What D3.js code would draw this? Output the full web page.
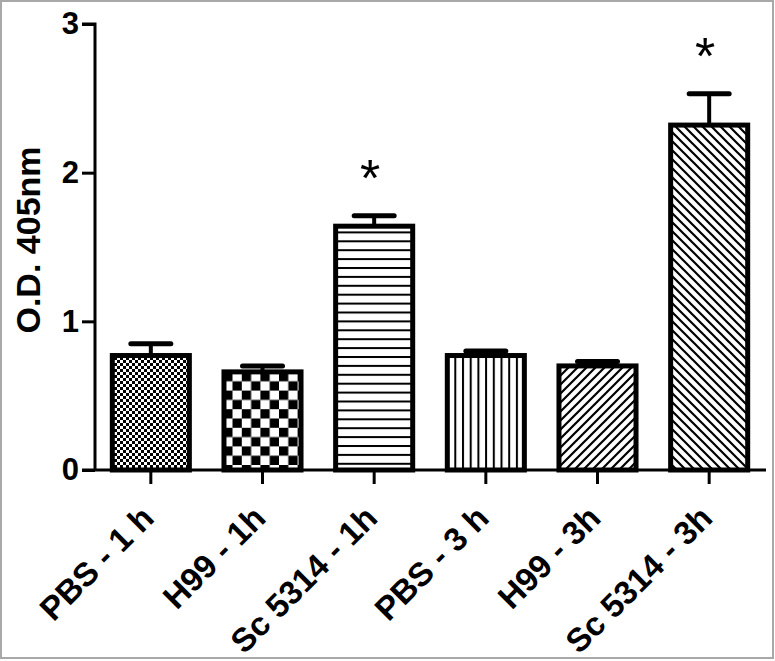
<!DOCTYPE html>
<html><head><meta charset="utf-8">
<script src="https://cdn.jsdelivr.net/npm/d3@7"></script>
<style>html,body{margin:0;padding:0;background:#fff;}svg{display:block;}</style>
</head><body>
<svg id="chart" width="775" height="661"></svg>
<script>
const categories = ["PBS - 1 h", "H99 - 1h", "Sc 5314 - 1h", "PBS - 3 h", "H99 - 3h", "Sc 5314 - 3h"];
const means = [0.77, 0.66, 1.64, 0.77, 0.70, 2.32];
const errors = [0.08, 0.04, 0.07, 0.03, 0.03, 0.21];
const significant = [false, false, true, false, false, true];
const patternIds = ["fineCheck", "check", "hlines", "vlines", "diagUp", "diagDown"];
const yTicks = [0, 1, 2, 3];
const yLabel = "O.D. 405nm";

const svg = d3.select("#chart");
const font = "'Liberation Sans', Arial, sans-serif";

svg.append("rect").attr("x", 1).attr("y", 1).attr("width", 772).attr("height", 657)
  .attr("fill", "#fff").attr("stroke", "#a8a8a8").attr("stroke-width", 2);

const defs = svg.append("defs");
let p = defs.append("pattern").attr("id", "fineCheck").attr("patternUnits", "userSpaceOnUse").attr("width", 6).attr("height", 6);
p.append("rect").attr("width", 6).attr("height", 6).attr("fill", "#000");
p.append("rect").attr("width", 3).attr("height", 3).attr("fill", "#fff");
p.append("rect").attr("x", 3).attr("y", 3).attr("width", 3).attr("height", 3).attr("fill", "#fff");
p = defs.append("pattern").attr("id", "check").attr("patternUnits", "userSpaceOnUse").attr("width", 18.6).attr("height", 18.6);
p.append("rect").attr("width", 18.6).attr("height", 18.6).attr("fill", "#fff");
p.append("rect").attr("width", 9.3).attr("height", 9.3).attr("fill", "#000");
p.append("rect").attr("x", 9.3).attr("y", 9.3).attr("width", 9.3).attr("height", 9.3).attr("fill", "#000");
p = defs.append("pattern").attr("id", "hlines").attr("patternUnits", "userSpaceOnUse").attr("width", 10).attr("height", 8.9);
p.append("rect").attr("width", 10).attr("height", 8.9).attr("fill", "#fff");
p.append("rect").attr("y", 0).attr("width", 10).attr("height", 2).attr("fill", "#000");
p = defs.append("pattern").attr("id", "vlines").attr("patternUnits", "userSpaceOnUse").attr("width", 7.7).attr("height", 10);
p.append("rect").attr("width", 7.7).attr("height", 10).attr("fill", "#fff");
p.append("rect").attr("x", 0).attr("width", 2).attr("height", 10).attr("fill", "#000");
p = defs.append("pattern").attr("id", "diagUp").attr("patternUnits", "userSpaceOnUse").attr("width", 9).attr("height", 9);
p.append("rect").attr("width", 9).attr("height", 9).attr("fill", "#fff");
p.append("path").attr("d", "M-2,2 L2,-2 M0,9 L9,0 M7,11 L11,7").attr("stroke", "#000").attr("stroke-width", 2.2);
p = defs.append("pattern").attr("id", "diagDown").attr("patternUnits", "userSpaceOnUse").attr("width", 9).attr("height", 9);
p.append("rect").attr("width", 9).attr("height", 9).attr("fill", "#fff");
p.append("path").attr("d", "M-2,7 L2,11 M0,0 L9,9 M7,-2 L11,2").attr("stroke", "#000").attr("stroke-width", 2.2);

const x = d3.scaleBand().domain(categories).range([95, 765]).paddingInner(0.31).paddingOuter(0.155);
const y = d3.scaleLinear().domain([0, 3]).range([470, 24]);

const data = categories.map((c, i) => ({c, m: means[i], e: errors[i], s: significant[i], p: patternIds[i]}));
const g = svg.append("g");
g.selectAll(".err").data(data).join("g").each(function(d) {
  const cx = x(d.c) + x.bandwidth() / 2;
  const sel = d3.select(this);
  sel.append("line").attr("x1", cx).attr("x2", cx).attr("y1", y(d.m)).attr("y2", y(d.m + d.e))
    .attr("stroke", "#000").attr("stroke-width", 4);
  sel.append("line").attr("x1", cx - 20).attr("x2", cx + 20).attr("y1", y(d.m + d.e)).attr("y2", y(d.m + d.e))
    .attr("stroke", "#000").attr("stroke-width", 5).attr("stroke-linecap", "round");
});
g.selectAll(".bar").data(data).join("rect")
  .attr("x", d => x(d.c)).attr("width", x.bandwidth())
  .attr("y", d => y(d.m)).attr("height", d => y(0) - y(d.m))
  .attr("fill", d => `url(#${d.p})`).attr("stroke", "#000").attr("stroke-width", 5);

g.selectAll(".star").data(data.filter(d => d.s)).join("text")
  .attr("x", d => x(d.c) + x.bandwidth() / 2 - 4)
  .attr("y", d => y(d.m + d.e) - 20)
  .attr("text-anchor", "middle").attr("font-family", font).attr("font-size", 52)
  .text("*");

const ya = svg.append("g").attr("transform", "translate(95,0)")
  .call(d3.axisLeft(y).tickValues(yTicks).tickSize(13).tickPadding(3).tickFormat(d3.format("d")));
ya.select(".domain").attr("stroke-width", 3).attr("d", `M-13,${y(3)}H0V${y(0)}`);
ya.selectAll(".tick line").attr("stroke-width", 3);
ya.selectAll(".tick text").attr("font-family", font).attr("font-size", 31).attr("font-weight", "bold").attr("fill", "#000");

const xa = svg.append("g").attr("transform", "translate(0,470)")
  .call(d3.axisBottom(x).tickSize(14).tickFormat(""));
xa.select(".domain").attr("stroke-width", 3).attr("d", "M82,0H766");
xa.selectAll(".tick line").attr("stroke-width", 3);
xa.selectAll(".tick text").remove();
svg.append("g").selectAll("text").data(categories).join("text")
  .attr("transform", d => `translate(${x(d) + x.bandwidth() / 2 + 5},520) rotate(-45)`)
  .attr("text-anchor", "end").attr("font-family", font).attr("font-size", 33).attr("font-weight", "bold")
  .text(d => d);

svg.append("text").attr("transform", "translate(40,240) rotate(-90)")
  .attr("text-anchor", "middle").attr("font-family", font).attr("font-size", 34).attr("font-weight", "bold")
  .text(yLabel);
</script>
</body></html>
